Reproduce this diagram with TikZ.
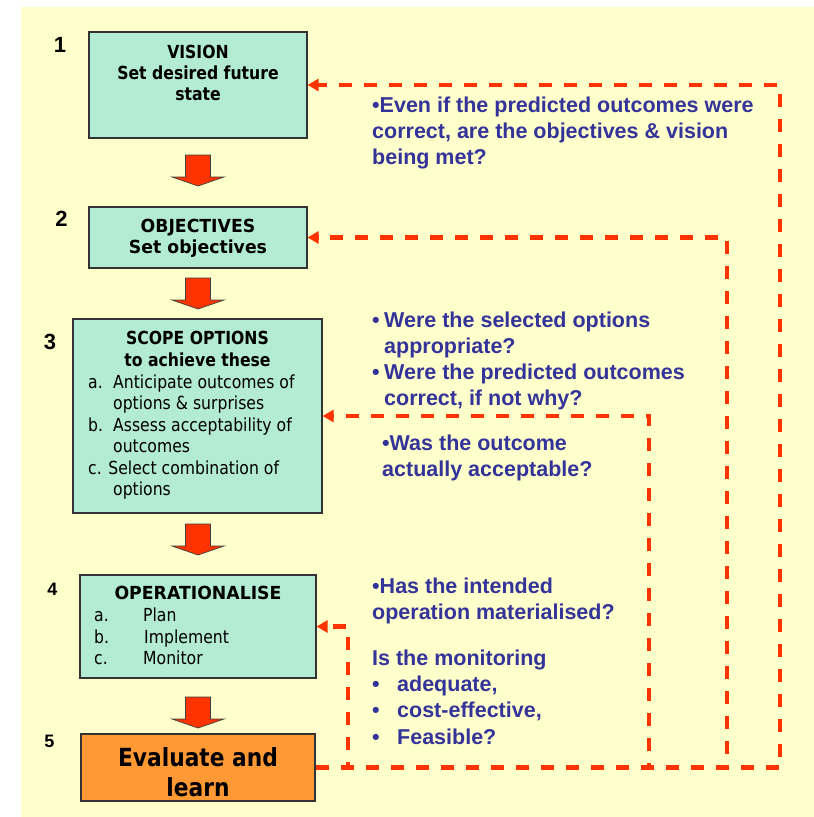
\documentclass[tikz,border=0pt]{standalone}
\usepackage{fontspec}
\setmainfont{Liberation Sans}
\newfontfamily\boxfont[FakeStretch=0.87]{DejaVu Sans}
\newfontfamily\boxwidefont[FakeStretch=0.96]{DejaVu Sans}
\usepackage{tikz}
\usetikzlibrary{positioning,arrows.meta}
\definecolor{bgyellow}{HTML}{FFFFCC}
\definecolor{boxgreen}{HTML}{B3EBD3}
\definecolor{evalorange}{HTML}{FF9933}
\definecolor{loopred}{HTML}{FF3300}
\definecolor{askblue}{HTML}{333399}
\newcommand{\stagearrow}[1]{\draw[blockarrow] (#1) ++(-12.5,0) -- ++(25,0) -- ++(0,22) -- ++(13.5,0) -- ++(-26,9) -- ++(-26,-9) -- ++(13.5,0) -- cycle;}

\begin{document}
\begin{tikzpicture}[x=1pt,y=-1pt,
stage/.style={draw=black!80,line width=1.1pt,fill=boxgreen,inner sep=0pt},
title/.style={font=\boxfont\bfseries\fontsize{18}{21.3}\selectfont,align=center,inner sep=0pt,anchor=north},
widetitle/.style={title,font=\boxwidefont\bfseries\fontsize{18}{20.5}\selectfont},
items/.style={font=\boxfont\fontsize{18}{21.5}\selectfont,align=left,inner sep=0pt,anchor=north west},
num/.style={font=\bfseries\fontsize{22}{22}\selectfont,inner sep=0pt},
ask/.style={font=\bfseries\fontsize{21.5}{26.2}\selectfont,text=askblue,align=left,inner sep=0pt,anchor=north west},
loop/.style={draw=loopred,line width=4.4pt,dash pattern=on 13pt off 12pt,-{Triangle[length=11pt,width=12pt]}},
blockarrow/.style={fill=loopred,draw=black!75,line width=0.7pt}]
\useasboundingbox (0,0) rectangle (814,817);
\fill[bgyellow] (21,7) rectangle (814,817);

% stages
\node[stage,minimum width=218pt,minimum height=106pt] (vision) at (198,85) {};
\node[stage,minimum width=218pt,minimum height=61pt] (objectives) at (198,237.5) {};
\node[stage,minimum width=249pt,minimum height=194pt] (scope) at (197.5,416) {};
\node[stage,minimum width=236pt,minimum height=103pt] (operate) at (198,626.5) {};
\node[stage,fill=evalorange,minimum width=234pt,minimum height=67pt] (evaluate) at (198,767.5) {};

\node[title,below=13pt of vision.north] (visiontext) {VISION\\Set desired future\\state};
\node[widetitle,below=12.7pt of objectives.north] (objtext) {OBJECTIVES\\Set objectives};
\node[title,below=12.7pt of scope.north] (scopetext) {SCOPE OPTIONS\\to achieve these};
\node[items] (scopelist) at (88,374.6) {\makebox[25pt][l]{a.}Anticipate outcomes of\\
  \hspace*{25pt}options \& surprises\\
  \makebox[25pt][l]{b.}Assess acceptability of\\
  \hspace*{25pt}outcomes\\
  c. Select combination of\\
  \hspace*{25pt}options};
\node[widetitle,below=11.7pt of operate.north] (optext) {OPERATIONALISE};
\node[items] (oplist) at (94,608) {\makebox[49pt][l]{a.}Plan\\
  \makebox[50pt][l]{b.}Implement\\
  \makebox[49pt][l]{c.}Monitor};
\node[font=\boxfont\bfseries\fontsize{25}{30}\selectfont,align=center,inner sep=0pt]
  (evaltext) at ([yshift=-5pt]evaluate.center) {Evaluate and\\learn};

% numbers
\node[num] (n1) at (60,45) {1};
\node[num] (n2) at (61.5,219) {2};
\node[num] (n3) at (50,341.5) {3};
\node[num,font=\bfseries\fontsize{18}{18}\selectfont] (n4) at (52.5,589.5) {4};
\node[num,font=\bfseries\fontsize{18}{18}\selectfont] (n5) at (49.5,741.5) {5};

% block arrows
\foreach \y in {155,278,524,697}
  {\stagearrow{198,\y}}

% feedback loops
\foreach \stg/\x in {vision/780,objectives/727,scope/649,operate/348}
  \draw[loop] (evaluate.east) -| (\x,0 |- \stg.east) -- (\stg.east);

% questions
\node[ask] (askvision) at (372,96.5) {•Even if the predicted outcomes were\\
  correct, are the objectives \& vision\\being met?};
\node[ask] (askscope) at (372,311.5) {\makebox[12pt][l]{•}Were the selected options\\
  \hspace*{12pt}appropriate?\\
  \makebox[12pt][l]{•}Were the predicted outcomes\\
  \hspace*{12pt}correct, if not why?};
\node[ask] (askaccept) at (382,434.7) {•Was the outcome\\actually acceptable?};
\node[ask] (askop) at (372,578) {•Has the intended\\operation materialised?};
\node[ask] (askmon) at (372,649.7) {Is the monitoring\\
  \makebox[25pt][l]{•}adequate,\\
  \makebox[25pt][l]{•}cost-effective,\\
  \makebox[25pt][l]{•}Feasible?};
\end{tikzpicture}
\end{document}
